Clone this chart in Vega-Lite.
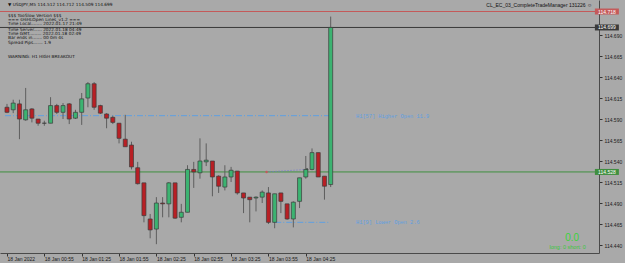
{
  "$schema": "https://vega.github.io/schema/vega-lite/v6.json",
  "width": 599,
  "height": 253,
  "autosize": {"type": "none"},
  "padding": {"left": 0, "top": 0, "right": 26, "bottom": 10},
  "background": "#a9a9a9",
  "config": {
    "view": {"stroke": null},
    "axisX": {
      "grid": false, "domain": true, "domainColor": "#4a4a4a", "domainWidth": 1,
      "ticks": true, "tickSize": 3, "tickColor": "#333333", "tickWidth": 1,
      "labelAlign": "left", "labelBaseline": "middle", "labelPadding": 2, "labelDx": 1,
      "labelFont": "Liberation Sans", "labelFontSize": 5, "labelColor": "#1a1a1a",
      "labelOverlap": false, "labelFlush": false
    },
    "axisY": {
      "grid": false, "domain": true, "domainColor": "#4a4a4a", "domainWidth": 1,
      "ticks": true, "tickSize": 3, "tickColor": "#333333", "tickWidth": 1,
      "labelAlign": "left", "labelBaseline": "middle", "labelPadding": 2,
      "labelFont": "Liberation Sans", "labelFontSize": 5, "labelColor": "#1a1a1a",
      "labelOverlap": false, "labelFlush": false
    }
  },
  "datasets": {
    "candles": [
      {"i":0,"o":114.604,"h":114.608,"l":114.597,"c":114.598},
      {"i":1,"o":114.601,"h":114.613,"l":114.597,"c":114.609},
      {"i":2,"o":114.608,"h":114.613,"l":114.566,"c":114.590},
      {"i":3,"o":114.589,"h":114.627,"l":114.588,"c":114.601},
      {"i":4,"o":114.602,"h":114.603,"l":114.586,"c":114.591},
      {"i":5,"o":114.590,"h":114.590,"l":114.582,"c":114.585},
      {"i":6,"o":114.585,"h":114.588,"l":114.582,"c":114.585},
      {"i":7,"o":114.585,"h":114.616,"l":114.585,"c":114.606},
      {"i":8,"o":114.606,"h":114.608,"l":114.596,"c":114.598},
      {"i":9,"o":114.598,"h":114.609,"l":114.590,"c":114.606},
      {"i":10,"o":114.608,"h":114.609,"l":114.584,"c":114.590},
      {"i":11,"o":114.591,"h":114.601,"l":114.590,"c":114.598},
      {"i":12,"o":114.598,"h":114.621,"l":114.583,"c":114.614},
      {"i":13,"o":114.615,"h":114.634,"l":114.604,"c":114.632},
      {"i":14,"o":114.632,"h":114.634,"l":114.601,"c":114.604},
      {"i":15,"o":114.606,"h":114.607,"l":114.596,"c":114.597},
      {"i":16,"o":114.596,"h":114.597,"l":114.579,"c":114.591},
      {"i":17,"o":114.592,"h":114.594,"l":114.584,"c":114.586},
      {"i":18,"o":114.585,"h":114.585,"l":114.561,"c":114.567},
      {"i":19,"o":114.566,"h":114.595,"l":114.557,"c":114.557},
      {"i":20,"o":114.559,"h":114.563,"l":114.530,"c":114.533},
      {"i":21,"o":114.532,"h":114.539,"l":114.512,"c":114.513},
      {"i":22,"o":114.514,"h":114.514,"l":114.467,"c":114.475},
      {"i":23,"o":114.471,"h":114.477,"l":114.448,"c":114.458},
      {"i":24,"o":114.459,"h":114.497,"l":114.441,"c":114.490},
      {"i":25,"o":114.490,"h":114.497,"l":114.473,"c":114.489},
      {"i":26,"o":114.489,"h":114.515,"l":114.473,"c":114.514},
      {"i":27,"o":114.514,"h":114.514,"l":114.471,"c":114.472},
      {"i":28,"o":114.473,"h":114.489,"l":114.467,"c":114.479},
      {"i":29,"o":114.479,"h":114.535,"l":114.479,"c":114.530},
      {"i":30,"o":114.530,"h":114.539,"l":114.508,"c":114.527},
      {"i":31,"o":114.526,"h":114.567,"l":114.519,"c":114.540},
      {"i":32,"o":114.539,"h":114.561,"l":114.534,"c":114.541},
      {"i":33,"o":114.540,"h":114.540,"l":114.498,"c":114.521},
      {"i":34,"o":114.522,"h":114.523,"l":114.502,"c":114.510},
      {"i":35,"o":114.509,"h":114.535,"l":114.505,"c":114.521},
      {"i":36,"o":114.521,"h":114.533,"l":114.515,"c":114.529},
      {"i":37,"o":114.528,"h":114.528,"l":114.500,"c":114.502},
      {"i":38,"o":114.502,"h":114.502,"l":114.478,"c":114.496},
      {"i":39,"o":114.497,"h":114.497,"l":114.467,"c":114.494},
      {"i":40,"o":114.496,"h":114.498,"l":114.480,"c":114.497},
      {"i":41,"o":114.497,"h":114.505,"l":114.490,"c":114.503},
      {"i":42,"o":114.502,"h":114.509,"l":114.465,"c":114.467},
      {"i":43,"o":114.467,"h":114.501,"l":114.460,"c":114.501},
      {"i":44,"o":114.502,"h":114.502,"l":114.478,"c":114.492},
      {"i":45,"o":114.489,"h":114.489,"l":114.470,"c":114.471},
      {"i":46,"o":114.471,"h":114.492,"l":114.461,"c":114.491},
      {"i":47,"o":114.492,"h":114.520,"l":114.484,"c":114.520},
      {"i":48,"o":114.521,"h":114.546,"l":114.519,"c":114.530},
      {"i":49,"o":114.530,"h":114.555,"l":114.529,"c":114.550},
      {"i":50,"o":114.550,"h":114.550,"l":114.521,"c":114.521},
      {"i":51,"o":114.522,"h":114.522,"l":114.494,"c":114.510},
      {"i":52,"o":114.512,"h":114.712,"l":114.509,"c":114.699}
    ],
    "levels": [
      {"p":114.718,"kind":"ask","lbl":"114.718"},
      {"p":114.699,"kind":"bid","lbl":"114.699"},
      {"p":114.527,"kind":"now","lbl":"114.528"}
    ],
    "hl": [
      {"i":-0.32,"i2":51.8,"p":114.594},
      {"i":43.1,"i2":51.8,"p":114.467}
    ],
    "hltext": [
      {"i":56.08,"p":114.594,"txt":"H1[57] Higher Open 11.9"},
      {"i":56.08,"p":114.467,"txt":"H1[9] Lower Open 2.6"}
    ],
    "ind": [
      {"i":41.7,"p":114.527,"kind":"start"},
      {"i":48.2,"p":114.530,"kind":"end"}
    ],
    "info": [
      {"i":0.16,"p":114.7257,"txt":"▼ USDJPY,M5  114.512 114.712 114.509 114.699"},
      {"i":0.16,"p":114.7130,"txt":"$$$ TooSlow Version $$$"},
      {"i":0.16,"p":114.7082,"txt":"=== sHiHLOpen Lines_v1.2 ==="},
      {"i":0.16,"p":114.7031,"txt":"Time Local........ 2022.01.17 21:49"},
      {"i":0.16,"p":114.6963,"txt":"Time Server...... 2022.01.18 04:49"},
      {"i":0.16,"p":114.6912,"txt":"Time GMT......... 2022.01.18 02:49"},
      {"i":0.16,"p":114.6861,"txt":"Bar ends in....... 00 0m 4s"},
      {"i":0.16,"p":114.6808,"txt":"Spread Pips....... 1.9"},
      {"i":0.16,"p":114.6635,"txt":"WARNING: H1 HIGH BREAKOUT"}
    ],
    "ea": [
      {"i":94.0,"p":114.7257,"txt":"CL_EC_03_CompleteTradeManager 131226 ☺"}
    ],
    "pnl": [
      {"i":90.8,"p":114.4483,"txt":"0.0"}
    ],
    "pos": [
      {"i":93.0,"p":114.4376,"txt":"long: 0 short: 0"}
    ]
  },
  "layer": [
    {
      "data": {"name": "levels"},
      "mark": {"type": "rule", "strokeWidth": 1},
      "encoding": {
        "y": {"field": "p", "type": "quantitative", "title": null, "scale": {"domain": [114.4305, 114.7317], "nice": false, "zero": false}, "axis": {"orient": "right", "values": [114.44, 114.465, 114.49, 114.515, 114.54, 114.565, 114.59, 114.615, 114.64, 114.665, 114.69], "format": ".3f", "title": null}},
        "color": {"field": "kind", "type": "nominal", "scale": {"domain": ["ask", "bid", "now"], "range": ["#c45a5a", "#3a3a3a", "#3f8f3f"]}, "legend": null}
      }
    },
    {
      "data": {"name": "hl"},
      "mark": {"type": "rule", "color": "#5f9fe0", "strokeWidth": 1, "strokeDash": [6, 2, 1, 2]},
      "encoding": {
        "x": {"field": "i", "type": "quantitative", "title": null, "scale": {"domain": [-0.32, 94.3], "nice": false, "zero": false}, "axis": {"orient": "bottom", "values": [0, 6, 12, 18, 24, 30, 36, 42, 48], "labelExpr": "['18 Jan 2022','18 Jan 00:55','18 Jan 01:25','18 Jan 01:55','18 Jan 02:25','18 Jan 02:55','18 Jan 03:25','18 Jan 03:55','18 Jan 04:25'][round(datum.value/6)]", "title": null}},
        "x2": {"field": "i2"},
        "y": {"field": "p", "type": "quantitative", "title": null, "scale": {"domain": [114.4305, 114.7317], "nice": false, "zero": false}, "axis": {"orient": "right", "values": [114.44, 114.465, 114.49, 114.515, 114.54, 114.565, 114.59, 114.615, 114.64, 114.665, 114.69], "format": ".3f", "title": null}}
      }
    },
    {
      "data": {"name": "ind"},
      "mark": {"type": "line", "color": "#6f73d8", "strokeWidth": 1, "strokeDash": [1, 2]},
      "encoding": {
        "x": {"field": "i", "type": "quantitative", "title": null, "scale": {"domain": [-0.32, 94.3], "nice": false, "zero": false}, "axis": {"orient": "bottom", "values": [0, 6, 12, 18, 24, 30, 36, 42, 48], "labelExpr": "['18 Jan 2022','18 Jan 00:55','18 Jan 01:25','18 Jan 01:55','18 Jan 02:25','18 Jan 02:55','18 Jan 03:25','18 Jan 03:55','18 Jan 04:25'][round(datum.value/6)]", "title": null}},
        "y": {"field": "p", "type": "quantitative", "title": null, "scale": {"domain": [114.4305, 114.7317], "nice": false, "zero": false}, "axis": {"orient": "right", "values": [114.44, 114.465, 114.49, 114.515, 114.54, 114.565, 114.59, 114.615, 114.64, 114.665, 114.69], "format": ".3f", "title": null}}
      }
    },
    {
      "data": {"name": "ind"},
      "mark": {"type": "point", "filled": true, "size": 6, "opacity": 1},
      "encoding": {
        "x": {"field": "i", "type": "quantitative", "title": null, "scale": {"domain": [-0.32, 94.3], "nice": false, "zero": false}, "axis": {"orient": "bottom", "values": [0, 6, 12, 18, 24, 30, 36, 42, 48], "labelExpr": "['18 Jan 2022','18 Jan 00:55','18 Jan 01:25','18 Jan 01:55','18 Jan 02:25','18 Jan 02:55','18 Jan 03:25','18 Jan 03:55','18 Jan 04:25'][round(datum.value/6)]", "title": null}},
        "y": {"field": "p", "type": "quantitative", "title": null, "scale": {"domain": [114.4305, 114.7317], "nice": false, "zero": false}, "axis": {"orient": "right", "values": [114.44, 114.465, 114.49, 114.515, 114.54, 114.565, 114.59, 114.615, 114.64, 114.665, 114.69], "format": ".3f", "title": null}},
        "color": {"field": "kind", "type": "nominal", "scale": {"domain": ["start", "end"], "range": ["#2f4fe8", "#f0cf50"]}, "legend": null}
      }
    },
    {
      "data": {"name": "candles"},
      "mark": {"type": "rule", "color": "#5e5e5e", "strokeWidth": 1},
      "encoding": {
        "x": {"field": "i", "type": "quantitative", "title": null, "scale": {"domain": [-0.32, 94.3], "nice": false, "zero": false}, "axis": {"orient": "bottom", "values": [0, 6, 12, 18, 24, 30, 36, 42, 48], "labelExpr": "['18 Jan 2022','18 Jan 00:55','18 Jan 01:25','18 Jan 01:55','18 Jan 02:25','18 Jan 02:55','18 Jan 03:25','18 Jan 03:55','18 Jan 04:25'][round(datum.value/6)]", "title": null}},
        "y": {"field": "l", "type": "quantitative", "title": null, "scale": {"domain": [114.4305, 114.7317], "nice": false, "zero": false}, "axis": {"orient": "right", "values": [114.44, 114.465, 114.49, 114.515, 114.54, 114.565, 114.59, 114.615, 114.64, 114.665, 114.69], "format": ".3f", "title": null}},
        "y2": {"field": "h"}
      }
    },
    {
      "data": {"name": "candles"},
      "mark": {"type": "bar", "orient": "vertical", "width": 4, "stroke": "#3c3c3c", "strokeWidth": 0.7},
      "encoding": {
        "x": {"field": "i", "type": "quantitative", "title": null, "scale": {"domain": [-0.32, 94.3], "nice": false, "zero": false}, "axis": {"orient": "bottom", "values": [0, 6, 12, 18, 24, 30, 36, 42, 48], "labelExpr": "['18 Jan 2022','18 Jan 00:55','18 Jan 01:25','18 Jan 01:55','18 Jan 02:25','18 Jan 02:55','18 Jan 03:25','18 Jan 03:55','18 Jan 04:25'][round(datum.value/6)]", "title": null}},
        "y": {"field": "o", "type": "quantitative", "title": null, "scale": {"domain": [114.4305, 114.7317], "nice": false, "zero": false}, "axis": {"orient": "right", "values": [114.44, 114.465, 114.49, 114.515, 114.54, 114.565, 114.59, 114.615, 114.64, 114.665, 114.69], "format": ".3f", "title": null}},
        "y2": {"field": "c"},
        "color": {"condition": {"test": "datum.c >= datum.o", "value": "#3cb371"}, "value": "#b81f24"}
      }
    },
    {
      "data": {"name": "levels"},
      "mark": {"type": "point", "shape": "M-1,-0.25L1,-0.25L1,0.25L-1,0.25Z", "size": 576, "filled": true, "opacity": 1},
      "encoding": {
        "x": {"datum": 96.37, "type": "quantitative", "title": null, "scale": {"domain": [-0.32, 94.3], "nice": false, "zero": false}, "axis": {"orient": "bottom", "values": [0, 6, 12, 18, 24, 30, 36, 42, 48], "labelExpr": "['18 Jan 2022','18 Jan 00:55','18 Jan 01:25','18 Jan 01:55','18 Jan 02:25','18 Jan 02:55','18 Jan 03:25','18 Jan 03:55','18 Jan 04:25'][round(datum.value/6)]", "title": null}},
        "y": {"field": "p", "type": "quantitative", "title": null, "scale": {"domain": [114.4305, 114.7317], "nice": false, "zero": false}, "axis": {"orient": "right", "values": [114.44, 114.465, 114.49, 114.515, 114.54, 114.565, 114.59, 114.615, 114.64, 114.665, 114.69], "format": ".3f", "title": null}},
        "color": {"field": "kind", "type": "nominal", "scale": {"domain": ["ask", "bid", "now"], "range": ["#e0302e", "#000000", "#0f6f12"]}, "legend": null}
      }
    },
    {
      "data": {"name": "levels"},
      "mark": {"type": "text", "font": "Liberation Sans", "fontSize": 5, "align": "center", "baseline": "middle", "color": "#ffffff"},
      "encoding": {
        "x": {"datum": 96.37, "type": "quantitative", "title": null, "scale": {"domain": [-0.32, 94.3], "nice": false, "zero": false}, "axis": {"orient": "bottom", "values": [0, 6, 12, 18, 24, 30, 36, 42, 48], "labelExpr": "['18 Jan 2022','18 Jan 00:55','18 Jan 01:25','18 Jan 01:55','18 Jan 02:25','18 Jan 02:55','18 Jan 03:25','18 Jan 03:55','18 Jan 04:25'][round(datum.value/6)]", "title": null}},
        "y": {"field": "p", "type": "quantitative", "title": null, "scale": {"domain": [114.4305, 114.7317], "nice": false, "zero": false}, "axis": {"orient": "right", "values": [114.44, 114.465, 114.49, 114.515, 114.54, 114.565, 114.59, 114.615, 114.64, 114.665, 114.69], "format": ".3f", "title": null}},
        "text": {"field": "lbl"}
      }
    },
    {
      "data": {"name": "hltext"},
      "mark": {"type": "text", "font": "Liberation Mono", "fontSize": 5.3, "align": "left", "baseline": "middle", "color": "#5f9fe0"},
      "encoding": {
        "x": {"field": "i", "type": "quantitative", "title": null, "scale": {"domain": [-0.32, 94.3], "nice": false, "zero": false}, "axis": {"orient": "bottom", "values": [0, 6, 12, 18, 24, 30, 36, 42, 48], "labelExpr": "['18 Jan 2022','18 Jan 00:55','18 Jan 01:25','18 Jan 01:55','18 Jan 02:25','18 Jan 02:55','18 Jan 03:25','18 Jan 03:55','18 Jan 04:25'][round(datum.value/6)]", "title": null}},
        "y": {"field": "p", "type": "quantitative", "title": null, "scale": {"domain": [114.4305, 114.7317], "nice": false, "zero": false}, "axis": {"orient": "right", "values": [114.44, 114.465, 114.49, 114.515, 114.54, 114.565, 114.59, 114.615, 114.64, 114.665, 114.69], "format": ".3f", "title": null}},
        "text": {"field": "txt"}
      }
    },
    {
      "data": {"name": "info"},
      "mark": {"type": "text", "font": "DejaVu Sans", "fontSize": 4.3, "align": "left", "baseline": "middle", "color": "#111111"},
      "encoding": {
        "x": {"field": "i", "type": "quantitative", "title": null, "scale": {"domain": [-0.32, 94.3], "nice": false, "zero": false}, "axis": {"orient": "bottom", "values": [0, 6, 12, 18, 24, 30, 36, 42, 48], "labelExpr": "['18 Jan 2022','18 Jan 00:55','18 Jan 01:25','18 Jan 01:55','18 Jan 02:25','18 Jan 02:55','18 Jan 03:25','18 Jan 03:55','18 Jan 04:25'][round(datum.value/6)]", "title": null}},
        "y": {"field": "p", "type": "quantitative", "title": null, "scale": {"domain": [114.4305, 114.7317], "nice": false, "zero": false}, "axis": {"orient": "right", "values": [114.44, 114.465, 114.49, 114.515, 114.54, 114.565, 114.59, 114.615, 114.64, 114.665, 114.69], "format": ".3f", "title": null}},
        "text": {"field": "txt"}
      }
    },
    {
      "data": {"name": "ea"},
      "mark": {"type": "text", "font": "Liberation Sans", "fontSize": 5, "align": "right", "baseline": "middle", "color": "#111111"},
      "encoding": {
        "x": {"field": "i", "type": "quantitative", "title": null, "scale": {"domain": [-0.32, 94.3], "nice": false, "zero": false}, "axis": {"orient": "bottom", "values": [0, 6, 12, 18, 24, 30, 36, 42, 48], "labelExpr": "['18 Jan 2022','18 Jan 00:55','18 Jan 01:25','18 Jan 01:55','18 Jan 02:25','18 Jan 02:55','18 Jan 03:25','18 Jan 03:55','18 Jan 04:25'][round(datum.value/6)]", "title": null}},
        "y": {"field": "p", "type": "quantitative", "title": null, "scale": {"domain": [114.4305, 114.7317], "nice": false, "zero": false}, "axis": {"orient": "right", "values": [114.44, 114.465, 114.49, 114.515, 114.54, 114.565, 114.59, 114.615, 114.64, 114.665, 114.69], "format": ".3f", "title": null}},
        "text": {"field": "txt"}
      }
    },
    {
      "data": {"name": "pnl"},
      "mark": {"type": "text", "font": "Liberation Sans", "fontSize": 10, "align": "center", "baseline": "middle", "color": "#3ad33a"},
      "encoding": {
        "x": {"field": "i", "type": "quantitative", "title": null, "scale": {"domain": [-0.32, 94.3], "nice": false, "zero": false}, "axis": {"orient": "bottom", "values": [0, 6, 12, 18, 24, 30, 36, 42, 48], "labelExpr": "['18 Jan 2022','18 Jan 00:55','18 Jan 01:25','18 Jan 01:55','18 Jan 02:25','18 Jan 02:55','18 Jan 03:25','18 Jan 03:55','18 Jan 04:25'][round(datum.value/6)]", "title": null}},
        "y": {"field": "p", "type": "quantitative", "title": null, "scale": {"domain": [114.4305, 114.7317], "nice": false, "zero": false}, "axis": {"orient": "right", "values": [114.44, 114.465, 114.49, 114.515, 114.54, 114.565, 114.59, 114.615, 114.64, 114.665, 114.69], "format": ".3f", "title": null}},
        "text": {"field": "txt"}
      }
    },
    {
      "data": {"name": "pos"},
      "mark": {"type": "text", "font": "Liberation Sans", "fontSize": 5.5, "align": "right", "baseline": "middle", "color": "#3ac83a"},
      "encoding": {
        "x": {"field": "i", "type": "quantitative", "title": null, "scale": {"domain": [-0.32, 94.3], "nice": false, "zero": false}, "axis": {"orient": "bottom", "values": [0, 6, 12, 18, 24, 30, 36, 42, 48], "labelExpr": "['18 Jan 2022','18 Jan 00:55','18 Jan 01:25','18 Jan 01:55','18 Jan 02:25','18 Jan 02:55','18 Jan 03:25','18 Jan 03:55','18 Jan 04:25'][round(datum.value/6)]", "title": null}},
        "y": {"field": "p", "type": "quantitative", "title": null, "scale": {"domain": [114.4305, 114.7317], "nice": false, "zero": false}, "axis": {"orient": "right", "values": [114.44, 114.465, 114.49, 114.515, 114.54, 114.565, 114.59, 114.615, 114.64, 114.665, 114.69], "format": ".3f", "title": null}},
        "text": {"field": "txt"}
      }
    }
  ]
}
